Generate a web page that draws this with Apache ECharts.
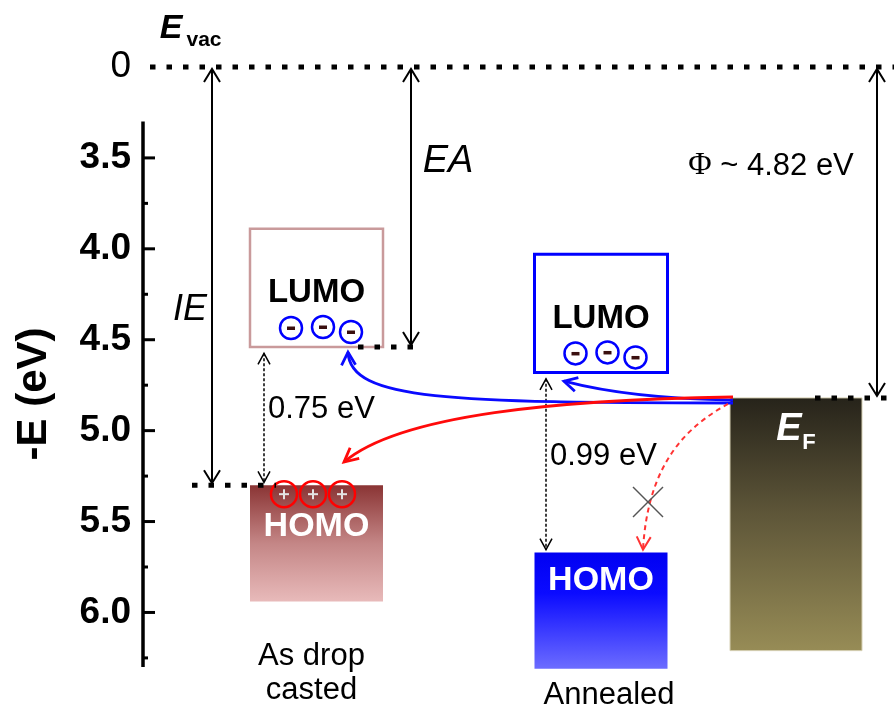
<!DOCTYPE html>
<html><head><meta charset="utf-8">
<script src="https://cdn.jsdelivr.net/npm/echarts@6/dist/echarts.min.js"></script>
<style>html,body{margin:0;padding:0;background:#fff}#c{width:894px;height:713px}</style>
</head><body><div id="c"></div>
<script>
// ---- data ----
const samples = ['As drop\ncasted', 'Annealed'];
const lumo = [4.54, 4.68];
const homo = [5.30, 5.67];
const gapLabels = ['0.75 eV', '0.99 eV'];
const electrons = [3, 3];
const holes = [3, 0];
const vacuumLevel = 0;
const fermi = 4.82;
const workFunctionLabel = '4.82 eV';
const yLabelValues = [3.0, 3.5, 4.0, 4.5, 5.0, 5.5, 6.0];   // 3.0 position carries the vacuum level "0" (broken axis)
const yLabelTexts = ['0', '3.5', '4.0', '4.5', '5.0', '5.5', '6.0'];
const majorTicks = [3.5, 4.0, 4.5, 5.0, 5.5, 6.0];
const minorTicks = [3.75, 4.25, 4.75, 5.25, 5.75, 6.25];

// ---- layout / style ----
const FONT = 'Liberation Sans, Arial, sans-serif';
const AXIS_BREAK = 3.0;           // where energy 0 is drawn
const ev = v => (v === vacuumLevel ? AXIS_BREAK : v);
const colX = [316.5, 601];
const boxW = 133;
const lumoStroke = ['#c99a9b', '#0000ff'];
const lumoStrokeW = [2.5, 3];
const homoFill = [
  {type:'linear',x:0,y:0,x2:0,y2:1,colorStops:[{offset:0,color:'#8a3434'},{offset:0.5,color:'#c48686'},{offset:1,color:'#e8baba'}]},
  {type:'linear',x:0,y:0,x2:0,y2:1,colorStops:[{offset:0,color:'#0000f2'},{offset:0.35,color:'#0b0bff'},{offset:1,color:'#6c6cff'}]}
];
const efFill = {type:'linear',x:0,y:0,x2:0,y2:1,colorStops:[{offset:0,color:'#26231a'},{offset:0.45,color:'#5d5538'},{offset:1,color:'#978c56'}]};
const gapX = [264, 546];
const sampleLabelY = [673, 695];
const sampleLabelDX = [-5, 8];

function arrowHead(tip, from, len, half, style) {
  const dx = tip[0]-from[0], dy = tip[1]-from[1];
  const d = Math.hypot(dx, dy) || 1;
  const ux = dx/d, uy = dy/d, nx = -uy, ny = ux;
  const bx = tip[0]-ux*len, by = tip[1]-uy*len;
  return {type:'polyline', shape:{points:[[bx+nx*half, by+ny*half], tip, [bx-nx*half, by-ny*half]]},
    style:Object.assign({fill:'none', lineJoin:'miter'}, style)};
}
function txt(x, y, text, s) {
  return {type:'text', x, y, style:Object.assign({text, fill:'#000', fontFamily:FONT, align:'center', verticalAlign:'middle'}, s)};
}

function renderAxis(params, api) {
  const ch = [];
  const top = api.coord([143, 3.3]), bot = api.coord([143, 6.3]);
  ch.push({type:'line', shape:{x1:top[0], y1:top[1], x2:bot[0], y2:bot[1]}, style:{stroke:'#000', lineWidth:3.5}});
  majorTicks.forEach(v => { const p = api.coord([143, v]); ch.push({type:'line', shape:{x1:p[0], y1:p[1], x2:p[0]+12, y2:p[1]}, style:{stroke:'#000', lineWidth:3}}); });
  minorTicks.forEach(v => { const p = api.coord([143, v]); ch.push({type:'line', shape:{x1:p[0], y1:p[1], x2:p[0]+5, y2:p[1]}, style:{stroke:'#000', lineWidth:3}}); });
  return {type:'group', children:ch};
}

function renderLevels(params, api) {
  const i = api.value(0), L = api.value(1), H = api.value(2);
  const cx = colX[i], x0 = cx - boxW/2;
  const ch = [];
  const lt = api.coord([x0, L - 0.65]), lb = api.coord([x0, L]);
  ch.push({type:'rect', shape:{x:lt[0], y:lt[1], width:boxW, height:lb[1]-lt[1]}, style:{fill:'#fff', stroke:lumoStroke[i], lineWidth:lumoStrokeW[i]}});
  ch.push(txt(cx, lb[1]-54, 'LUMO', {fontSize:33, fontWeight:'bold'}));
  const eDx = [41, 73, 101], eDy = [-19, -20, -15];
  for (let k = 0; k < electrons[i]; k++) {
    const ex = x0 + eDx[k], ey = lb[1] + eDy[k];
    ch.push({type:'circle', shape:{cx:ex, cy:ey, r:11}, style:{fill:'#fff', stroke:'#0000ff', lineWidth:2.5}});
    ch.push({type:'rect', shape:{x:ex-4, y:ey-1.5, width:8, height:3.5}, style:{fill:'#3a0f0f'}});
  }
  const ht = api.coord([x0, H]), hb = api.coord([x0, H + 0.64]);
  ch.push({type:'rect', shape:{x:ht[0], y:ht[1], width:boxW, height:hb[1]-ht[1]}, style:{fill:homoFill[i]}});
  ch.push(txt(cx, ht[1] + (holes[i] ? 41 : 28), 'HOMO', {fontSize:34, fontWeight:'bold', fill:'#fff'}));
  const hDx = [34, 63, 92];
  for (let k = 0; k < holes[i]; k++) {
    const hx = x0 + hDx[k], hy = ht[1] + 9;
    ch.push({type:'circle', shape:{cx:hx, cy:hy, r:13}, style:{fill:'none', stroke:'#ff0000', lineWidth:2.5}});
    ch.push({type:'line', shape:{x1:hx-5, y1:hy, x2:hx+5, y2:hy}, style:{stroke:'#e4e4e4', lineWidth:2}});
    ch.push({type:'line', shape:{x1:hx, y1:hy-5, x2:hx, y2:hy+5}, style:{stroke:'#e4e4e4', lineWidth:2}});
  }
  // gap arrow
  const g1 = api.coord([gapX[i], L + 0.035]), g2 = api.coord([gapX[i], H - 0.015]);
  const ds = {stroke:'#000', lineWidth:1.5};
  ch.push({type:'line', shape:{x1:g1[0], y1:g1[1], x2:g2[0], y2:g2[1]}, style:Object.assign({lineDash:[3,2]}, ds)});
  ch.push(arrowHead(g1, g2, 11, 6, ds));
  ch.push(arrowHead(g2, g1, 11, 6, ds));
  const gl = api.coord([gapX[i] + 4, (L + H)/2 - 0.035]);
  ch.push(txt(gl[0], gl[1], gapLabels[i], {fontSize:31, align:'left'}));
  ch.push(txt(cx + sampleLabelDX[i], sampleLabelY[i], samples[i], {fontSize:31, lineHeight:34}));
  return {type:'group', children:ch};
}

function renderElectrode(params, api) {
  const F = api.value(0);
  const t = api.coord([730, F]), b = api.coord([862, 6.21]);
  return {type:'group', children:[
    {type:'rect', shape:{x:t[0], y:t[1], width:b[0]-t[0], height:b[1]-t[1]}, style:{fill:efFill, stroke:'#d6d0b4', lineWidth:1}},
    txt(t[0]+59, t[1]+32, 'E', {fontSize:38, fontWeight:'bold', fontStyle:'italic', fill:'#fff'}),
    txt(t[0]+79, t[1]+45, 'F', {fontSize:22, fontWeight:'bold', fill:'#fff'})
  ]};
}

function renderAnnotations(params, api) {
  const ch = [];
  const V = ev(vacuumLevel);
  const dot = {stroke:'#000', lineWidth:5, lineDash:[5.5, 11]};
  const dline = (xa, xb, e) => { const a = api.coord([xa, e]), b = api.coord([xb, e]); ch.push({type:'line', shape:{x1:a[0], y1:a[1], x2:b[0], y2:b[1]}, style:dot}); };
  dline(150, 900, V);
  dline(358, 418, lumo[0]);
  dline(192, 276, homo[0]);
  dline(815, 900, fermi);
  const solid = {stroke:'#000', lineWidth:2};
  const varrow = (x, e1, e2) => {
    const a = api.coord([x, e1]), b = api.coord([x, e2]);
    ch.push({type:'line', shape:{x1:a[0], y1:a[1]+2, x2:b[0], y2:b[1]-2}, style:solid});
    ch.push(arrowHead([a[0], a[1]+2], b, 13, 8, solid));
    ch.push(arrowHead([b[0], b[1]-2], a, 13, 8, solid));
  };
  varrow(212, V, homo[0]);
  varrow(411, V, lumo[0]);
  varrow(877, V, fermi);
  let p = api.coord([190, 4.337]); ch.push(txt(p[0], p[1], 'IE', {fontSize:36, fontStyle:'italic'}));
  p = api.coord([448, 3.517]); ch.push(txt(p[0], p[1], 'EA', {fontSize:38, fontStyle:'italic'}));
  p = api.coord([771, 3.545]);
  ch.push({type:'text', x:p[0], y:p[1], style:{text:'{phi|Φ} ~ ' + workFunctionLabel, rich:{phi:{fontFamily:'Liberation Serif, serif', fontSize:32}}, fontFamily:FONT, fontSize:31, fill:'#000', align:'center', verticalAlign:'middle'}});
  // E_vac label
  p = api.coord([171, V]);
  ch.push(txt(p[0], p[1]-38, 'E', {fontSize:34, fontWeight:'bold', fontStyle:'italic'}));
  ch.push(txt(p[0]+33, p[1]-27, 'vac', {fontSize:21, fontWeight:'bold'}));
  // curved transfer arrows
  const curve = (pts, style, headLen, headHalf) => {
    const c = pts.map(q => api.coord(q));
    ch.push({type:'bezierCurve', shape:{x1:c[0][0], y1:c[0][1], cpx1:c[1][0], cpy1:c[1][1], cpx2:c[2][0], cpy2:c[2][1], x2:c[3][0], y2:c[3][1]}, style:Object.assign({fill:'none'}, style)});
    ch.push(arrowHead(c[3], c[2], headLen, headHalf, {stroke:style.stroke, lineWidth:style.lineWidth}));
  };
  curve([[733, 4.848], [450, 4.845], [350, 4.835], [348, 4.568]], {stroke:'#0a0aff', lineWidth:2.8}, 13, 7);
  curve([[733, 4.832], [650, 4.826], [600, 4.78], [564, 4.728]], {stroke:'#0a0aff', lineWidth:2.8}, 13, 7);
  curve([[733, 4.815], [560, 4.83], [400, 4.91], [344, 5.173]], {stroke:'#ff0a0a', lineWidth:2.8}, 14, 7);
  curve([[728, 4.853], [690, 4.969], [648, 5.161], [643, 5.655]], {stroke:'#ff3333', lineWidth:2, lineDash:[5,4]}, 13, 7);
  p = api.coord([648, 5.393]);
  ch.push({type:'line', shape:{x1:p[0]-15, y1:p[1]-15, x2:p[0]+15, y2:p[1]+15}, style:{stroke:'#555', lineWidth:1.5}});
  ch.push({type:'line', shape:{x1:p[0]-15, y1:p[1]+15, x2:p[0]+15, y2:p[1]-15}, style:{stroke:'#555', lineWidth:1.5}});
  return {type:'group', children:ch};
}

const chart = echarts.init(document.getElementById('c'), null, {renderer:'canvas'});
chart.setOption({
  animation:false,
  backgroundColor:'#fff',
  grid:{left:143, right:0, top:67, bottom:46, containLabel:false},
  xAxis:{type:'value', min:143, max:894, show:false},
  yAxis:{
    type:'value', inverse:true, min:3.0, max:6.3, interval:0.5,
    name:'-E (eV)', nameLocation:'middle', nameRotate:90, nameGap:88,
    nameTextStyle:{fontFamily:FONT, fontSize:42, fontWeight:'bold', color:'#000', padding:[0, 54, 0, 0]},
    axisLine:{show:false}, axisTick:{show:false}, splitLine:{show:false},
    axisLabel:{
      showMaxLabel:false, margin:12,
      formatter: v => { const k = yLabelValues.findIndex(t => Math.abs(t - v) < 1e-6); if (k < 0) return ''; return k === 0 ? '{z|' + yLabelTexts[k] + '}' : yLabelTexts[k]; },
      fontFamily:FONT, fontSize:37, fontWeight:'bold', color:'#000',
      rich:{z:{fontFamily:FONT, fontSize:37, fontWeight:'normal', color:'#000', padding:[0, 0, 0, 0]}}
    }
  },
  series:[
    {type:'custom', name:'axis', renderItem:renderAxis, data:[[0]], clip:false, silent:true},
    {type:'custom', name:'levels', renderItem:renderLevels, data:samples.map((s, i) => [i, lumo[i], homo[i]]), clip:false, silent:true},
    {type:'custom', name:'electrode', renderItem:renderElectrode, data:[[fermi]], clip:false, silent:true},
    {type:'custom', name:'annotations', renderItem:renderAnnotations, data:[[0]], clip:false, silent:true}
  ]
});
</script>
</body></html>
